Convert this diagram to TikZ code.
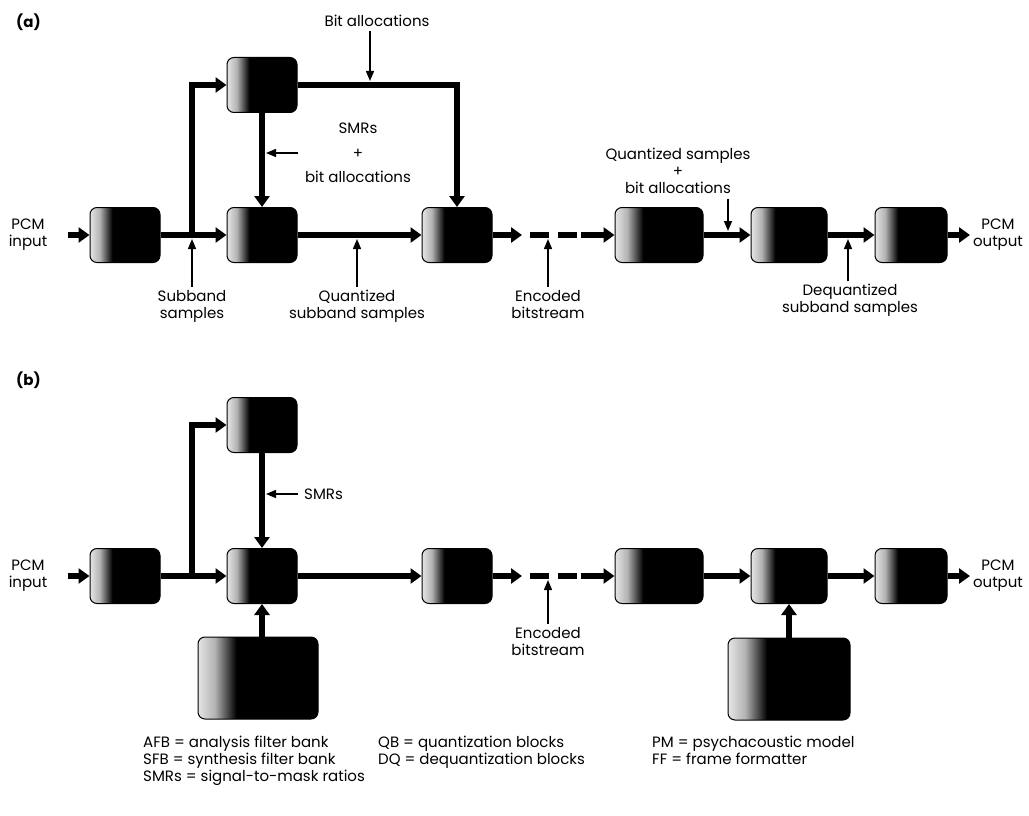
\documentclass[tikz,border=0pt]{standalone}
\usepackage{fontspec}
\setmainfont{Poppins}
\usetikzlibrary{positioning,arrows.meta}

\pgfdeclarehorizontalshading{blockshade}{100bp}{color(0bp)=(black!10); color(25bp)=(black!10); color(32bp)=(black!30); color(41bp)=(black); color(100bp)=(black)}

\begin{document}
\begin{tikzpicture}
% Style
[
    x=1pt, y=-1pt, font=\fontsize{15}{17}\selectfont,
    block/.style={
        draw, shading=blockshade, rounded corners=7pt, line width=1pt,
        minimum width=#1, minimum height=55pt, inner sep=0pt
    },
    block/.default=70pt,
    bigblock/.style={block=#1, minimum height=82pt},
    bus/.style={line width=6pt},
    feed/.style={bus, -{Triangle[length=11pt,width=15pt]}},
    tag/.style={line width=1.4pt, -{Triangle[length=10pt,width=8pt]}},
    txt/.style={align=center, inner sep=0pt},
]
\useasboundingbox (0,0) rectangle (1029,816);

%=================================== Both chains ===================================
{
    \foreach \p/\y/\yp in {a/235/85, b/576/425} {
        \foreach \n/\x/\w in {afb/125/70, qb/262/70, ff/457/70, dff/659/88, dq/789/76, sfb/911/72} {
            \node[block=\w pt] (\n-\p) at (\x,\y) {};
        }
        \node[block] (pm-\p) at (262,\yp) {};

        \coordinate (in-\p) at (68,\y);
        \coordinate (out-\p) at (970,\y);
        \coordinate (split-\p) at (192,\y);
        \coordinate (gap-\p) at (522,\y);
        \coordinate (dash-\p) at (577,\y);

        \node[txt] (pcmin-\p) at (28,\y) {PCM\\input};
        \node[txt] (pcmout-\p) at (998,\y) {PCM\\output};

        \draw[feed] (in-\p) -- (afb-\p);
        \draw[feed] (afb-\p) -- (qb-\p);
        \draw[feed] (split-\p) |- (pm-\p);
        \draw[feed] (pm-\p) -- (qb-\p);
        \draw[feed] (qb-\p) -- (ff-\p);
        \draw[feed] (ff-\p) -- (gap-\p);
        \draw[bus, dash pattern=on 19pt off 9pt] ([xshift=8pt]gap-\p) -- (dash-\p);
        \draw[feed] ([xshift=4pt]dash-\p) -- (dff-\p);
        \draw[feed] (dff-\p) -- (dq-\p);
        \draw[feed] (dq-\p) -- (sfb-\p);
        \draw[feed] (sfb-\p) -- (out-\p);
    }
}

%=================================== (a) ===================================
{
    \node[txt, font=\bfseries\fontsize{15}{17}\selectfont, anchor=west] (title-a) at (16,22) {(a)};

    \draw[feed] (pm-a) -| (ff-a);

    \node[txt] (bitalloc-a) at (377,21) {Bit allocations};
    \coordinate (bitalloc-tip) at (370,81);
    \draw[tag] ([yshift=-4pt]bitalloc-a.south -| bitalloc-tip) -- (bitalloc-tip);

    \node[txt, font=\fontsize{15}{24.5}\selectfont] (smr-a) at (358,153) {SMRs\\+\\bit allocations};
    \coordinate (smr-a-tail) at (298,153);
    \coordinate (smr-a-tip) at (266,153);
    \draw[tag] (smr-a-tail) -- (smr-a-tip);

    \foreach \t/\x/\lbl in {sub/192/{Subband\\samples}, qsub/357/{Quantized\\subband samples}, enc/548/{Encoded\\bitstream}} {
        \node[txt, anchor=north] (\t-a) at (\x,290) {\lbl};
        \draw[tag] ([yshift=3pt]\t-a.north) -- (\x,239);
    }

    \node[txt, anchor=north] (qs-a) at (678,148) {Quantized samples\\+\\bit allocations};
    \coordinate (qs-a-tip) at (728,231);
    \draw[tag] ([yshift=-5pt]qs-a.south -| qs-a-tip) -- (qs-a-tip);

    \node[txt, anchor=north] (deq-a) at (850,284) {Dequantized\\subband samples};
    \coordinate (deq-a-tip) at (848,239);
    \draw[tag] ([yshift=3pt]deq-a.north -| deq-a-tip) -- (deq-a-tip);
}

%=================================== (b) ===================================
{
    \node[txt, font=\bfseries\fontsize{15}{17}\selectfont, anchor=west] (title-b) at (16,380) {(b)};

    \node[bigblock=120pt] (alloc-b) at (258,678) {};
    \node[bigblock=122pt] (dalloc-b) at (789,679) {};
    \draw[feed] (alloc-b.north -| qb-b) -- (qb-b);
    \draw[feed] (dalloc-b) -- (dq-b);

    \node[txt, anchor=west] (smr-b) at (304,494) {SMRs};
    \coordinate (smr-b-tip) at (266,494);
    \draw[tag] ([xshift=-6pt]smr-b.west) -- (smr-b-tip);

    \node[txt, anchor=north] (enc-b) at (548,627) {Encoded\\bitstream};
    \coordinate (enc-b-tip) at (548,580);
    \draw[tag] ([yshift=3pt]enc-b.north) -- (enc-b-tip);
}

%=================================== Key ===================================
{
    \node[txt, align=left, anchor=north west] (key-1) at (143,736)
        {AFB = analysis filter bank\\SFB = synthesis filter bank\\SMRs = signal-to-mask ratios};
    \node[txt, align=left, anchor=north west] (key-2) at (378,736)
        {QB = quantization blocks\\DQ = dequantization blocks};
    \node[txt, align=left, anchor=north west] (key-3) at (652,736)
        {PM = psychacoustic model\\FF = frame formatter};
}

\end{tikzpicture}
\end{document}
